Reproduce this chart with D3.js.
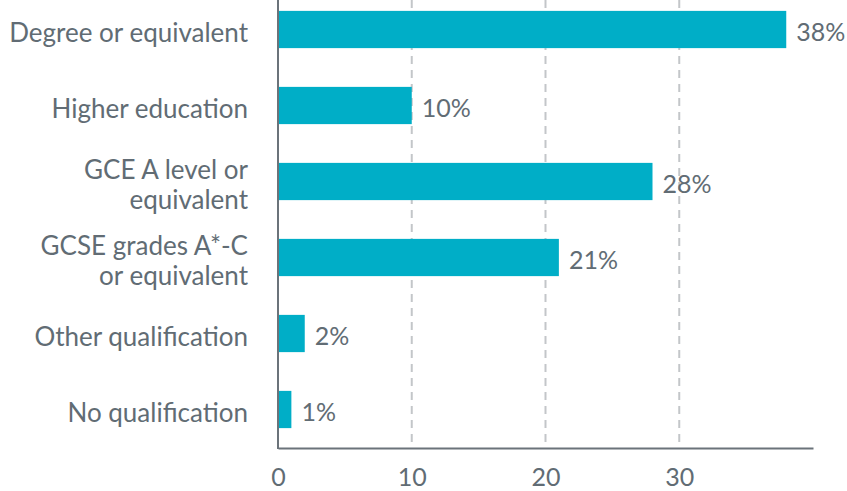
<!DOCTYPE html>
<html><head><meta charset="utf-8">
<script src="https://cdn.jsdelivr.net/npm/d3@7"></script>
<style>
html,body{margin:0;padding:0;background:#fff;}
svg{display:block;font-family:Lato,sans-serif;}
</style></head>
<body>
<svg id="chart" width="847" height="491"></svg>
<script>
const categories = [
  ["Degree or equivalent"],
  ["Higher education"],
  ["GCE A level or", "equivalent"],
  ["GCSE grades A*-C", "or equivalent"],
  ["Other qualification"],
  ["No qualification"]
];
const values = [38, 10, 28, 21, 2, 1];
const xTicks = [0, 10, 20, 30];

(function () {
const svg = d3.select("#chart");
const mLeft = 278, mRight = 813, mTop = -8.5, mBottom = 447.5;
const textColor = "#616c74";

const x = d3.scaleLinear().domain([0, 40]).range([mLeft, mRight]);
const y = d3.scaleBand().domain(d3.range(categories.length))
  .range([mTop, mBottom]).paddingInner(0.51).paddingOuter(0.255);

// grid
svg.append("g").selectAll("line").data(xTicks.filter(d => d > 0)).join("line")
  .attr("x1", d => x(d)).attr("x2", d => x(d))
  .attr("y1", 0).attr("y2", 448)
  .attr("stroke", "#c3c6c9").attr("stroke-width", 2)
  .attr("stroke-dasharray", "8,6");

// bars
svg.append("g").selectAll("rect").data(values).join("rect")
  .attr("x", x(0)).attr("y", (d, i) => y(i))
  .attr("width", d => x(d) - x(0)).attr("height", y.bandwidth())
  .attr("fill", "#00aec7");

// value labels
svg.append("g").selectAll("text").data(values).join("text")
  .attr("x", d => x(d) + 10).attr("y", (d, i) => y(i) + y.bandwidth() / 2 + 3)
  .attr("dy", "0.35em").attr("font-size", 25).attr("fill", textColor)
  .text(d => d + "%");

// axes
const xAxis = d3.axisBottom(x).tickValues(xTicks).tickSize(0).tickPadding(20);
const gx = svg.append("g").attr("transform", "translate(0,448)").call(xAxis);
gx.select(".domain").attr("stroke", "#6b737a").attr("stroke-width", 2);
gx.selectAll("text").attr("font-size", 25).attr("fill", textColor).attr("font-family", "Lato,sans-serif");

svg.append("line").attr("x1", mLeft).attr("x2", mLeft).attr("y1", 0).attr("y2", 449)
  .attr("stroke", "#6b737a").attr("stroke-width", 2);

// category labels
const lh = 30;
svg.append("g").selectAll("text").data(categories).join("text")
  .attr("text-anchor", "end").attr("font-size", 26).attr("fill", textColor)
  .each(function (lines, i) {
    const cy = y(i) + y.bandwidth() / 2 + 3;
    const t = d3.select(this);
    lines.forEach((l, k) => {
      t.append("tspan").attr("x", 248)
        .attr("y", cy + (k - (lines.length - 1) / 2) * lh)
        .attr("dy", "0.35em").text(l);
    });
  });
})();
</script>
</body></html>
